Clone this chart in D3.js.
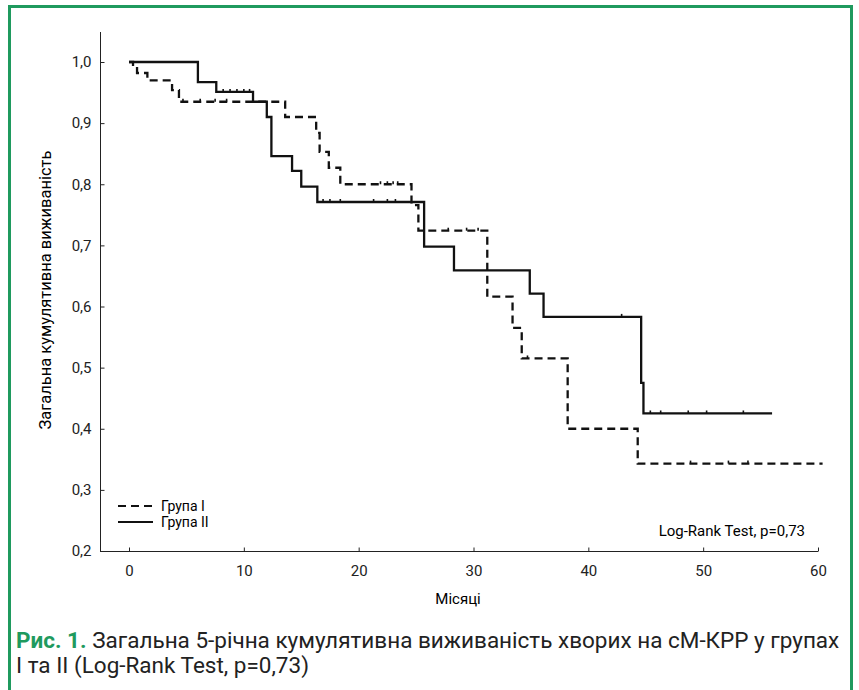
<!DOCTYPE html>
<html>
<head>
<meta charset="utf-8">
<script src="https://cdn.jsdelivr.net/npm/d3@7"></script>
<style>
  body { margin: 0; background: #fff; }
  svg { display: block; }
</style>
</head>
<body>
<div id="chart"></div>
<script>
// Kaplan-Meier steps (months, cumulative survival)
const groupITimes = [0, 0.35, 0.7, 1.6, 3.75, 4.35, 13.6, 16.3, 16.6, 17.4, 18.4, 24.6, 25.2, 31.2, 33.4, 34.2, 38.2, 44.3, 60.4];
const groupISurv  = [1.0, 0.99, 0.982, 0.97, 0.954, 0.935, 0.91, 0.884, 0.853, 0.827, 0.80, 0.766, 0.724, 0.616, 0.565, 0.515, 0.40, 0.343, 0.343];
const groupICensored = [4.7, 6.2, 7.5, 8.5, 21.9, 22.5, 23.0, 23.4, 27.8, 29.4, 30.4, 34.7, 48.9, 52.2, 53.9];

const groupIITimes = [0, 6.0, 7.6, 10.8, 12.0, 12.4, 14.2, 15.0, 16.4, 25.7, 28.3, 34.9, 36.1, 44.6, 44.8, 56.0];
const groupIISurv  = [1.0, 0.967, 0.951, 0.935, 0.91, 0.846, 0.822, 0.796, 0.771, 0.698, 0.659, 0.621, 0.583, 0.475, 0.425, 0.425];
const groupIICensored = [8.2, 8.8, 9.4, 10.0, 10.5, 16.9, 17.5, 18.4, 21.3, 22.5, 23.2, 42.9, 45.4, 46.3, 48.7, 50.3, 53.5];

const xTicks = [0, 10, 20, 30, 40, 50, 60];
const yTicks = [0.2, 0.3, 0.4, 0.5, 0.6, 0.7, 0.8, 0.9, 1.0];
const legendLabels = ['Група I', 'Група II'];

const width = 859, height = 690;
const green = '#1f9a5e';
const font = '"Roboto", "DejaVu Sans Condensed", sans-serif';

const svg = d3.select('#chart').append('svg')
    .attr('width', width)
    .attr('height', height);

// green frame (open at the bottom)
svg.append('path')
    .attr('d', 'M9.5,690 L9.5,6.5 L851.5,6.5 L851.5,690')
    .attr('fill', 'none')
    .attr('stroke', green)
    .attr('stroke-width', 3);

const x = d3.scaleLinear().domain([0, 60]).range([129, 818]);
const y = d3.scaleLinear().domain([0.2, 1.0]).range([551, 62]);

// axes
const xAxis = d3.axisBottom(x).tickValues(xTicks).tickSize(-4).tickPadding(14).tickFormat(d3.format('d'));
const gx = svg.append('g').attr('transform', 'translate(0,551.5)').call(xAxis);
gx.select('.domain').attr('d', 'M100,0H818');

const yAxis = d3.axisLeft(y).tickValues(yTicks).tickSize(-4).tickPadding(9)
    .tickFormat(d => d3.format('.1f')(d).replace('.', ','));
const gy = svg.append('g').attr('transform', 'translate(100.5,0)').call(yAxis);
gy.select('.domain').attr('d', 'M0,32V551');

svg.selectAll('.tick text')
    .style('font-family', font)
    .style('font-size', '15px')
    .attr('fill', '#222');
svg.selectAll('.domain, .tick line').attr('stroke', '#222');

// axis titles
svg.append('text')
    .attr('x', 458).attr('y', 604)
    .attr('text-anchor', 'middle')
    .style('font-family', font).style('font-size', '15px')
    .text('Місяці');

svg.append('text')
    .attr('transform', 'translate(51,290) rotate(-90)')
    .attr('text-anchor', 'middle')
    .style('font-family', font).style('font-size', '16.5px')
    .text('Загальна кумулятивна виживаність');

// survival curves
const line = d3.line()
    .x(d => x(d[0]))
    .y(d => y(d[1]))
    .curve(d3.curveStepAfter);

function survAt(times, surv, t) {
    const i = d3.bisectRight(times, t) - 1;
    return surv[Math.max(0, i)];
}

const groups = [
    { times: groupITimes, surv: groupISurv, cens: groupICensored, dash: '8,5' },
    { times: groupIITimes, surv: groupIISurv, cens: groupIICensored, dash: null }
];

groups.forEach(g => {
    svg.append('path')
        .datum(d3.zip(g.times, g.surv))
        .attr('d', line)
        .attr('fill', 'none')
        .attr('stroke', '#111')
        .attr('stroke-width', 2.3)
        .attr('stroke-dasharray', g.dash);

    svg.selectAll(null)
        .data(g.cens)
        .enter()
        .append('line')
        .attr('x1', d => x(d)).attr('x2', d => x(d))
        .attr('y1', d => y(survAt(g.times, g.surv, d)))
        .attr('y2', d => y(survAt(g.times, g.surv, d)) - 3)
        .attr('stroke', '#111')
        .attr('stroke-width', 1.6);
});

// legend
const legend = svg.append('g').attr('transform', 'translate(118,506)');
legendLabels.forEach((label, i) => {
    legend.append('line')
        .attr('x1', 0).attr('x2', 35)
        .attr('y1', i * 16).attr('y2', i * 16)
        .attr('stroke', '#111')
        .attr('stroke-width', 2)
        .attr('stroke-dasharray', i === 0 ? '8,5' : null);
    legend.append('text')
        .attr('x', 43).attr('y', i * 16 + 5)
        .style('font-family', font).style('font-size', '14px')
        .text(label);
});

svg.append('text')
    .attr('x', 805).attr('y', 536)
    .attr('text-anchor', 'end')
    .style('font-family', font).style('font-size', '15px')
    .text('Log-Rank Test, p=0,73');

// caption
const cap = svg.append('text')
    .attr('x', 16).attr('y', 648)
    .style('font-family', font).style('font-size', '22.5px')
    .attr('fill', '#222');
cap.append('tspan')
    .attr('fill', green).style('font-weight', 'bold')
    .text('Рис. 1. ');
cap.append('tspan')
    .text('Загальна 5-річна кумулятивна виживаність хворих на сМ-КРР у групах');
svg.append('text')
    .attr('x', 16).attr('y', 673)
    .style('font-family', font).style('font-size', '22.5px')
    .attr('fill', '#222')
    .text('І та ІІ (Log-Rank Test, p=0,73)');
</script>
</body>
</html>
